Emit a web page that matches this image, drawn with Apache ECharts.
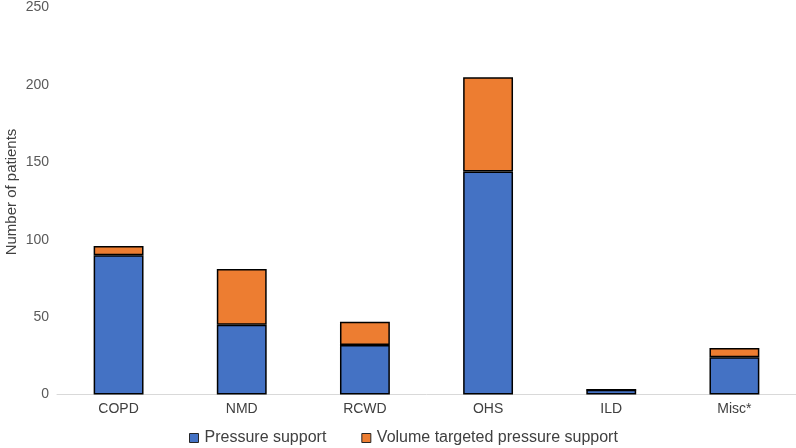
<!DOCTYPE html>
<html><head><meta charset="utf-8">
<script src="https://cdn.jsdelivr.net/npm/echarts@6/dist/echarts.min.js"></script>
<style>html,body{margin:0;padding:0;background:#fff}#c{width:796px;height:448px}</style>
</head><body><div id="c"></div>
<script>
const categories = ['COPD','NMD','RCWD','OHS','ILD','Misc*'];
const pressureSupport = [90,45,32,144,3,24];
const volumeTargeted = [6,36,15,61,0,6];
const yTicks = [0,50,100,150,200,250];
const yTitle = 'Number of patients';
const FONT = 'Liberation Sans';
const chart = echarts.init(document.getElementById('c'));
chart.setOption({
  animation:false,
  textStyle:{fontFamily:FONT},
  grid:{left:57,right:0,top:7.5,bottom:53.5,containLabel:false,outerBoundsMode:'none'},
  graphic:[{type:'text',x:4,y:192,rotation:Math.PI/2,
    style:{text:yTitle,fontSize:15,fill:'#404040',fontFamily:FONT,align:'center',verticalAlign:'top'}}],
  legend:{
    top:430,left:189,padding:0,itemWidth:9,itemHeight:9,itemGap:35,icon:'rect',
    itemStyle:{borderColor:'#262626',borderWidth:1},
    textStyle:{fontSize:16,color:'#404040',fontFamily:FONT,padding:[0,0,0,1]},
    data:['Pressure support','Volume targeted pressure support']
  },
  xAxis:{type:'category',data:categories,
    axisLine:{lineStyle:{color:'#d9d9d9',width:1}},axisTick:{show:false},
    axisLabel:{fontSize:14,color:'#404040',margin:8}},
  yAxis:{type:'value',min:yTicks[0],max:yTicks[yTicks.length-1],interval:50,
    splitLine:{show:false},axisLine:{show:false},axisTick:{show:false},
    axisLabel:{fontSize:14,color:'#595959',margin:8}},
  series:[
    {name:'Pressure support',type:'bar',stack:'a',barWidth:'40.5%',data:pressureSupport,
     itemStyle:{color:'#4472C4',borderColor:'#000',borderWidth:1.5}},
    {name:'Volume targeted pressure support',type:'bar',stack:'a',barWidth:'40.5%',data:volumeTargeted,
     itemStyle:{color:'#ED7D31',borderColor:'#000',borderWidth:1.5}}
  ]
});
</script></body></html>
